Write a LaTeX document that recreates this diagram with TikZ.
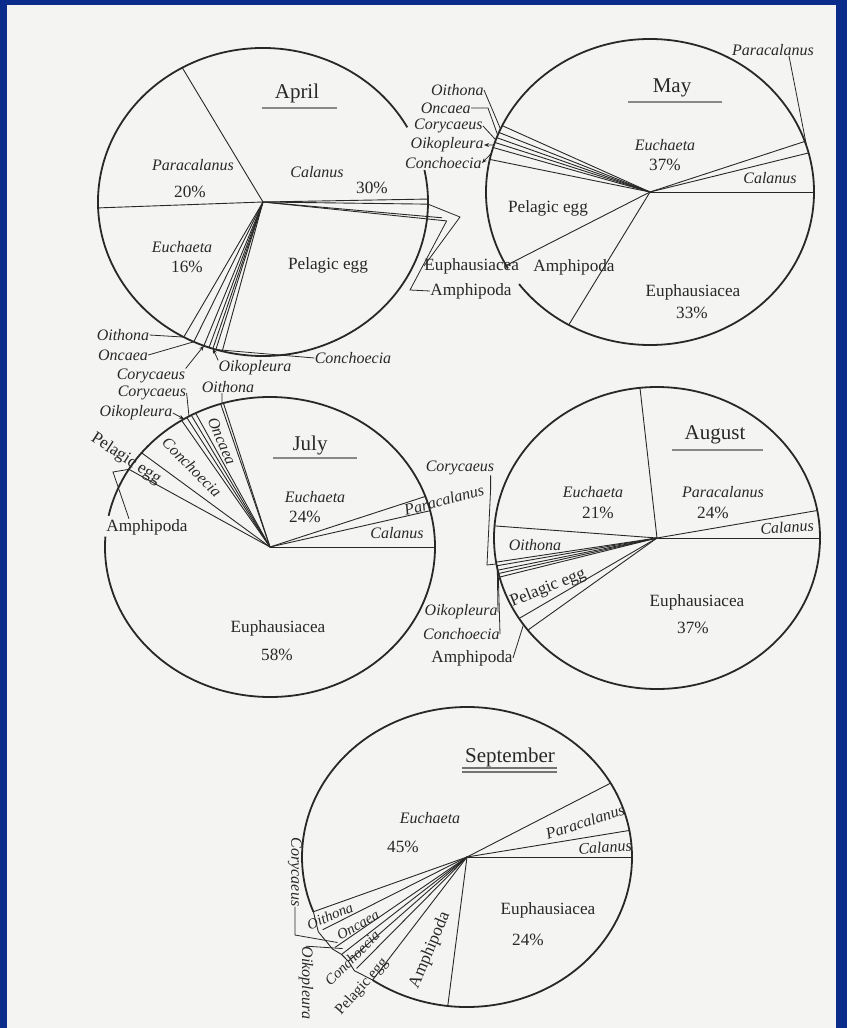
\documentclass[tikz,border=0pt]{standalone}
\usepackage{fontspec}
\setmainfont{Liberation Serif}
\usepackage{tikz}
\usetikzlibrary{positioning,arrows.meta}
\definecolor{frameblue}{RGB}{10,45,140}
\definecolor{paper}{RGB}{244,244,243}
\definecolor{ink}{RGB}{40,40,40}
\begin{document}
\begin{tikzpicture}[x=0.5pt, y=-0.5pt, font=\fontsize{8.6}{10}\selectfont,
  rim/.style={draw=ink, line width=0.9pt},
  cut/.style={draw=ink, line width=0.45pt},
  lead/.style={draw=ink, line width=0.4pt},
  leadtip/.style={lead, -{Stealth[length=2.5pt,width=2pt]}},
  genus/.style={text=ink, font=\fontsize{8}{9}\selectfont\itshape, inner sep=0pt},
  taxon/.style={text=ink, inner sep=0pt},
  small/.style={font=\fontsize{7.4}{8}\selectfont\itshape},
  month/.style={text=ink, font=\fontsize{10.5}{12}\selectfont, inner sep=0pt},
  ruleline/.style={draw=ink!55, line width=1.4pt}]
\useasboundingbox (0,0) rectangle (847,1028);
\fill[frameblue] (0,0) rectangle (847,1028);
\fill[paper] (7,5) rectangle (836,1028);

\begin{scope}[shift={(263,202)}, xscale=165, yscale=-154]
\draw[rim] (29:1) arc[start angle=29, end angle=372, radius=1];
\foreach \a in {119.3,182.2,241.3,245.2,249,250.9,252.3,253.4,255.7,1.1,-0.8}
  \draw[cut] (0,0) -- (\a:1);
\draw[cut] (0,0) -- (-5.4:1.09);
\draw[cut] (0,0) -- (-6.3:1.12);
\coordinate (aEu) at (-0.8:1);
\coordinate (aAm) at (-6.3:1.12);
\coordinate (aOi) at (241.3:1);
\coordinate (aOn) at (245.2:1);
\coordinate (aCo) at (249:1);
\coordinate (aOk) at (252.3:1);
\coordinate (aCn) at (253.4:1);
\end{scope}
\node[month] (apT) at (297,93) {April};
\draw[ruleline] (262,108) -- (337,108);
\node[genus] (apPa) at (193,165) {Paracalanus};
\node[taxon] (apPaP) at (190,192) {20\%};
\node[genus] (apCa) at (317,172) {Calanus};
\node[taxon] (apCaP) at (372,188) {30\%};
\node[genus] (apEc) at (182,247) {Euchaeta};
\node[taxon] (apEcP) at (187,267) {16\%};
\node[taxon] (apPe) at (328,265) {Pelagic egg};
\node[taxon, anchor=west] (apEu) at (424,266) {Euphausiacea};
\node[taxon, anchor=west] (apAm) at (430,291) {Amphipoda};
\draw[lead] (apEu.west) -- (460,217) -- (aEu);
\draw[lead] (apAm.west) -- (410,290) -- (aAm);
\node[genus] (apOi) at (123,335) {Oithona};
\node[genus] (apOn) at (123,355) {Oncaea};
\node[genus] (apCo) at (151,376) {Corycaeus};
\node[genus] (apOk) at (255,368) {Oikopleura};
\node[genus] (apCn) at (353,358) {Conchoecia};
\draw[lead] (apOi.east) -- (aOi);
\draw[lead] (apOn.east) -- (aOn);
\draw[leadtip] (apCo.north east) -- (aCo);
\draw[leadtip] (apOk.north west) -- (aOk);
\draw[lead] (apCn.west) -- (aCn);

\begin{scope}[shift={(650,192)}, xscale=164, yscale=-153]
\draw[rim] (217:1) arc[start angle=217, end angle=570, radius=1];
\foreach \a in {154.3,157.1,159.2,161.1,163.1,167.7,208.7,240.3,0,14.8,19.3}
  \draw[cut] (0,0) -- (\a:1);
\coordinate (mOi) at (155.7:1);
\coordinate (mOn) at (158.2:1);
\coordinate (mCo) at (160.1:1);
\coordinate (mOk) at (162.1:1);
\coordinate (mCn) at (165.4:1);
\coordinate (mPa) at (17:1);
\end{scope}
\node[month] (myT) at (672,88) {May};
\draw[ruleline] (628,102) -- (722,102);
\node[genus] (myEc) at (665,145) {Euchaeta};
\node[taxon] (myEcP) at (665,165) {37\%};
\node[genus] (myCa) at (770,178) {Calanus};
\node[genus] (myPa) at (773,50) {Paracalanus};
\node[taxon] (myPe) at (548,208) {Pelagic egg};
\node[taxon] (myAm) at (574,267) {Amphipoda};
\node[taxon] (myEu) at (693,292) {Euphausiacea};
\node[taxon] (myEuP) at (692,313) {33\%};
\node[genus, anchor=east] (myOi) at (484,90) {Oithona};
\node[genus, anchor=east] (myOn) at (471,108) {Oncaea};
\node[genus, anchor=east] (myCo) at (483,126) {Corycaeus};
\node[genus, anchor=east] (myOk) at (484,145) {Oikopleura};
\node[genus, anchor=east] (myCn) at (482,163) {Conchoecia};
\draw[lead] (myOi.east) -- (mOi);
\draw[lead] (myOn.east) -- (488,108) -- (mOn);
\draw[lead] (myCo.east) -- (mCo);
\draw[leadtip] (mOk) -- (myOk.east);
\draw[leadtip] (mCn) -- (myCn.east);
\draw[lead] ([xshift=8pt]myPa.south) -- (mPa);

\begin{scope}[shift={(270,547)}, xscale=165, yscale=-150]
\draw[rim] (176:1) arc[start angle=176, end angle=528, radius=1];
\foreach \a in {0,14,19.7,106.4,107.4,116.8,118.5,120.3,122.4,141.1,148.8}
  \draw[cut] (0,0) -- (\a:1);
\coordinate (jOi) at (106.9:1);
\coordinate (jCo) at (119.4:1);
\coordinate (jOk) at (121.4:1);
\coordinate (jAm) at (148.8:1);
\end{scope}
\node[month] (jlT) at (310,445) {July};
\draw[ruleline] (273,458) -- (357,458);
\node[genus] (jlEc) at (315,497) {Euchaeta};
\node[taxon] (jlEcP) at (305,517) {24\%};
\node[genus] (jlCa) at (397,533) {Calanus};
\node[genus, rotate=15] (jlPa) at (444,500) {Paracalanus};
\node[taxon] (jlEu) at (278,628) {Euphausiacea};
\node[taxon] (jlEuP) at (277,655) {58\%};
\node[taxon] (jlAm) at (147,527) {Amphipoda};
\node[taxon, rotate=-33] (jlPe) at (126,459) {Pelagic egg};
\node[genus, rotate=-45] (jlCn) at (192,467) {Conchoecia};
\node[genus, rotate=-67] (jlOn) at (222,441) {Oncaea};
\node[genus] (jlOi) at (228,387) {Oithona};
\node[genus] (jlCo) at (152,393) {Corycaeus};
\node[genus] (jlOk) at (136,413) {Oikopleura};
\draw[lead] ([xshift=-3pt]jlOi.south) -- (jOi);
\draw[lead] (jlCo.east) -- (jCo);
\draw[leadtip] (jlOk.east) -- (jOk);
\draw[lead] (jAm) -- (113,472) -- ([xshift=-9pt]jlAm.north);

\begin{scope}[shift={(657,538)}, xscale=163, yscale=-151]
\draw[rim] (0,0) circle (1);
\foreach \a in {96,10.5,0,175.4,189.2,190.6,192.3,193.6,195,212.2,217.6}
  \draw[cut] (0,0) -- (\a:1);
\coordinate (gCo) at (189.9:1);
\coordinate (gOk) at (191.5:1);
\coordinate (gCn) at (193:1);
\coordinate (gAm) at (215:1);
\end{scope}
\node[month] (agT) at (715,435) {August};
\draw[ruleline] (672,450) -- (763,450);
\node[genus] (agEc) at (593,492) {Euchaeta};
\node[taxon] (agEcP) at (598,513) {21\%};
\node[genus] (agPa) at (723,492) {Paracalanus};
\node[taxon] (agPaP) at (713,513) {24\%};
\node[genus, rotate=4] (agCa) at (787,527) {Calanus};
\node[genus] (agOi) at (535,545) {Oithona};
\node[taxon, rotate=22] (agPe) at (548,588) {Pelagic egg};
\node[taxon] (agEu) at (697,602) {Euphausiacea};
\node[taxon] (agEuP) at (693,628) {37\%};
\node[genus] (agCo) at (460,468) {Corycaeus};
\node[genus, anchor=east] (agOk) at (498,612) {Oikopleura};
\node[genus, anchor=east] (agCn) at (500,634) {Conchoecia};
\node[taxon, anchor=east] (agAm) at (513,658) {Amphipoda};
\draw[lead] ([xshift=-2pt]agCo.south east) -- ++(0,14) -- (487,565) -- (gCo);
\draw[lead] (agOk.east) -- (gOk);
\draw[lead] (agCn.east) -- (gCn);
\draw[lead] (agAm.east) -- (gAm);

\begin{scope}[shift={(467,857)}, xscale=165, yscale=-150]
\draw[rim] (235.1:1) arc[start angle=235.1, end angle=561.4, radius=1];
\foreach \a in {0,10.2,29.5,263.3,235.1,228,224,220.5,217,209,201.4}
  \draw[cut] (0,0) -- (\a:1);
\draw[cut] (201.4:1) -- (209:1.03) -- (217:1.02) -- (220.5:1) -- (224:1) -- (228:1.02) -- (235.1:1);
\coordinate (sCo) at (216:0.97);
\coordinate (sOk) at (219:0.97);
\end{scope}
\node[month] (spT) at (510,757) {September};
\draw[ink!65, line width=0.6pt] (462,768) -- (557,768) (462,772) -- (557,772);
\node[genus] (spEc) at (430,818) {Euchaeta};
\node[taxon] (spEcP) at (403,847) {45\%};
\node[genus, rotate=18] (spPa) at (585,822) {Paracalanus};
\node[genus, rotate=4] (spCa) at (605,847) {Calanus};
\node[taxon] (spEu) at (548,910) {Euphausiacea};
\node[taxon] (spEuP) at (528,940) {24\%};
\node[taxon, rotate=67] (spAm) at (430,950) {Amphipoda};
\node[taxon, small, font=\fontsize{7.6}{8}\selectfont, rotate=48] (spPe) at (362,987) {Pelagic egg};
\node[genus, small, rotate=45] (spCn) at (352,958) {Conchoecia};
\node[genus, small, rotate=30] (spOn) at (358,925) {Oncaea};
\node[genus, small, rotate=23] (spOi) at (330,916) {Oithona};
\node[genus, rotate=-90] (spCo) at (295,872) {Corycaeus};
\node[genus, rotate=-90] (spOk) at (306,983) {Oikopleura};
\draw[lead] (spCo.east) -- (295,935) -- (sCo);
\draw[lead] (spOk.west) -- (sOk);
\end{tikzpicture}
\end{document}
